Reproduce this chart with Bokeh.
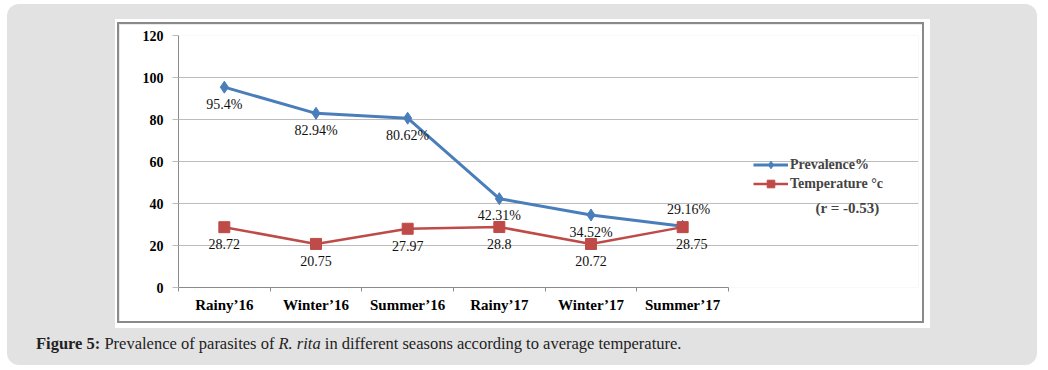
from bokeh.plotting import figure
from bokeh.layouts import column
from bokeh.models import (Range1d, FixedTicker, Label, Legend, LegendItem,
                          ColumnDataSource, Div)
from bokeh.core.properties import value
from bokeh.embed import file_html
from bokeh.resources import INLINE

# ---------------- data ----------------
seasons = ["Rainy\u201916", "Winter\u201916", "Summer\u201916",
           "Rainy\u201917", "Winter\u201917", "Summer\u201917"]
prevalence = [95.4, 82.94, 80.62, 42.31, 34.52, 29.16]
prevalence_labels = ["95.4%", "82.94%", "80.62%", "42.31%", "34.52%", "29.16%"]
temperature = [28.72, 20.75, 27.97, 28.8, 20.72, 28.75]
temperature_labels = ["28.72", "20.75", "27.97", "28.8", "20.72", "28.75"]
y_ticks = [0, 20, 40, 60, 80, 100, 120]
correlation_text = "(r = -0.53)"
caption_html = ("<b>Figure 5:</b> Prevalence of parasites of <i>R. rita</i> "
                "in different seasons according to average temperature.")

# label placement (style)
prev_dy = [17, 17, 17, 17, 17, -17]
prev_dx = [0, 0, 0, 0, 0, 6]
temp_dy = [17, 17, 17, 17, 17, 17]
temp_dx = [0, 0, 0, 0, 0, 9]

BLUE = "#4a7ebb"
RED = "#be4b48"
SERIF = "Liberation Serif"

n = len(seasons)
xc = [i + 0.5 for i in range(n)]

# layout in pixels
FIG_W, FIG_H = 803, 297
PLOT_W = 550            # width of the category area
FRAME_W = 740           # frame extends right to hold legend
x_end = n * FRAME_W / PLOT_W

p = figure(width=FIG_W, height=FIG_H, x_range=Range1d(0, x_end), y_range=Range1d(0, 120),
           output_backend="svg", toolbar_location=None,
           min_border_left=59, min_border_right=FIG_W - 59 - FRAME_W,
           min_border_top=11, min_border_bottom=34,
           border_fill_color="white", background_fill_color="white", outline_line_color=None,
           margin=(20, 0, 0, 112),
           styles={"box-shadow": "0 0 0 2px #8a8a8a, 2px 1px 0 6px #ffffff"})

# axes
p.yaxis.ticker = FixedTicker(ticks=y_ticks)
p.yaxis.bounds = (0, 120)
p.ygrid.ticker = FixedTicker(ticks=y_ticks)
p.ygrid.bounds = (0, n)
p.ygrid.grid_line_color = "#bcbcbc"
p.xgrid.grid_line_color = None
p.yaxis.axis_line_color = "#8a8a8a"
p.yaxis.major_tick_line_color = "#bcbcbc"
p.yaxis.major_tick_out = 6
p.yaxis.major_tick_in = 0
p.yaxis.minor_tick_line_color = None
p.yaxis.major_label_standoff = 9
p.yaxis.major_label_text_font = SERIF
p.yaxis.major_label_text_font_style = "bold"
p.yaxis.major_label_text_font_size = "14px"
p.yaxis.major_label_text_color = "black"

p.xaxis.ticker = FixedTicker(ticks=xc, minor_ticks=list(range(n + 1)))
p.xaxis.bounds = (0, n)
p.xaxis.major_label_overrides = {x: s for x, s in zip(xc, seasons)}
p.xaxis.axis_line_color = "#8a8a8a"
p.xaxis.major_tick_line_color = None
p.xaxis.major_tick_out = 0
p.xaxis.major_tick_in = 0
p.xaxis.minor_tick_line_color = "#8a8a8a"
p.xaxis.minor_tick_out = 4
p.xaxis.minor_tick_in = 0
p.xaxis.major_label_standoff = 5
p.xaxis.major_label_text_font = SERIF
p.xaxis.major_label_text_font_style = "bold"
p.xaxis.major_label_text_font_size = "15px"
p.xaxis.major_label_text_color = "black"

# series
prev_line = p.line(xc, prevalence, line_color=BLUE, line_width=3)
prev_pts = p.scatter(xc, prevalence, marker="diamond", size=12, fill_color=BLUE, line_color=BLUE)
temp_line = p.line(xc, temperature, line_color=RED, line_width=2.5)
temp_pts = p.scatter(xc, temperature, marker="square", size=11, fill_color=RED, line_color=RED)

src_p = ColumnDataSource(dict(x=xc, y=prevalence, t=prevalence_labels, dx=prev_dx, dy=prev_dy))
src_t = ColumnDataSource(dict(x=xc, y=temperature, t=temperature_labels, dx=temp_dx, dy=temp_dy))
for s in (src_p, src_t):
    p.text(x="x", y="y", text="t", x_offset="dx", y_offset="dy", source=s,
           text_align="center", text_baseline="middle", text_font_size="14px",
           text_font=value(SERIF), text_color="#111111")

legend = Legend(items=[LegendItem(label="Prevalence%", renderers=[prev_line, prev_pts]),
                       LegendItem(label="Temperature \u00b0c", renderers=[temp_line, temp_pts])],
                location=(575, 94), padding=0, margin=0, spacing=0,
                glyph_width=35, glyph_height=19, label_height=19, label_standoff=2,
                border_line_color=None, background_fill_alpha=0,
                label_text_font=SERIF, label_text_font_style="bold", label_text_font_size="14px")
p.add_layout(legend, "center")

p.add_layout(Label(x=696, y=183, x_units="canvas", y_units="canvas", text=correlation_text,
                   text_font=SERIF, text_font_style="bold", text_font_size="15px",
                   text_baseline="middle"))

caption = Div(text=caption_html, width=760, margin=(13, 0, 0, 29),
              styles={"font-family": "'Liberation Serif', serif", "font-size": "16.5px",
                      "color": "#222222", "line-height": "19px"})

root = column(p, caption, width=1030, height=361, margin=(4, 0, 0, 7),
              styles={"background-color": "#e2e2e2", "border-radius": "12px"})

open("out.html", "w").write(file_html(root, INLINE))
